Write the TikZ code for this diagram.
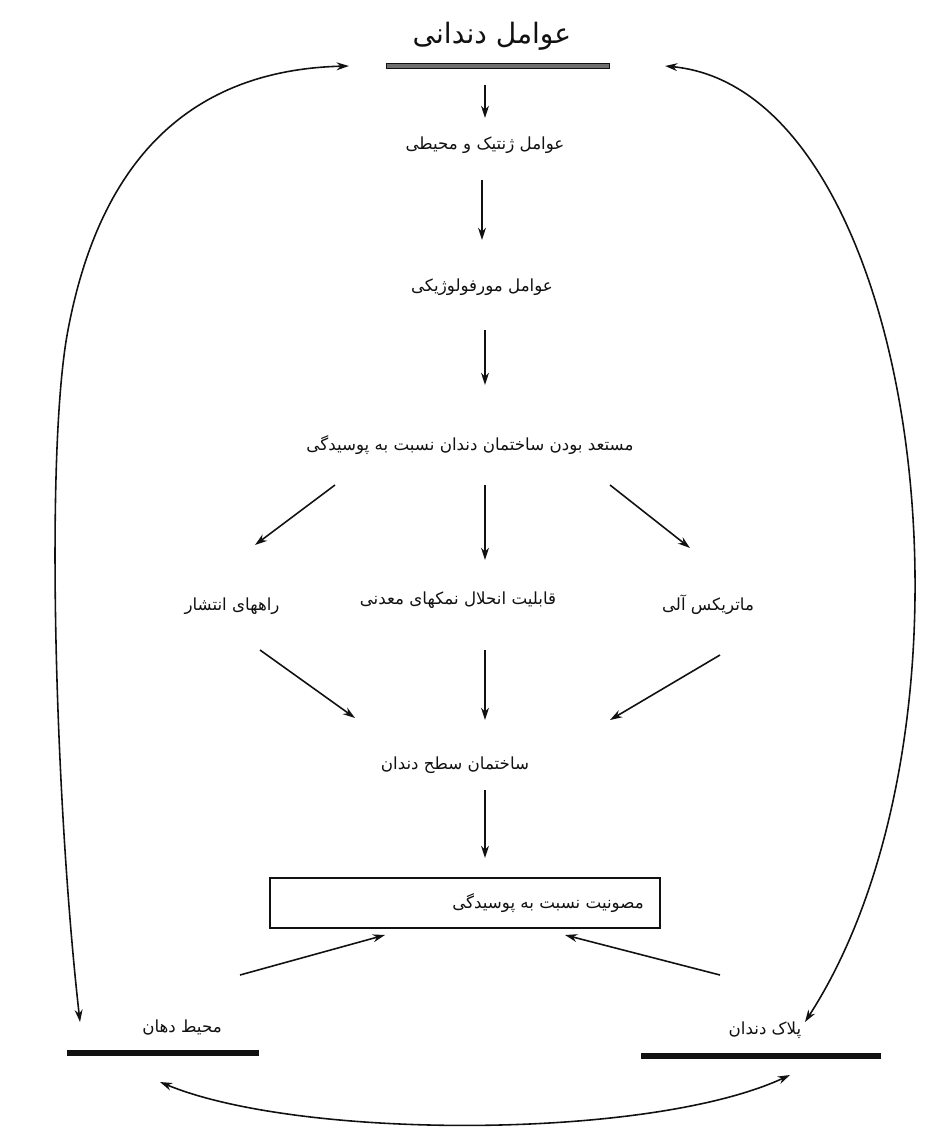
\documentclass[tikz,border=0pt]{standalone}
\usepackage{fontspec}
\usepackage{tikz}
\usetikzlibrary{arrows.meta, positioning}
\TeXXeTstate=1
\newfontfamily\farsi[Script=Arabic]{DejaVu Sans}
\newcommand{\rtl}[1]{\beginR#1\endR}
\definecolor{ink}{HTML}{111111}
\definecolor{rulegray}{HTML}{6E6E6E}
\tikzset{
  font=\farsi\fontsize{9.5}{12}\selectfont,
  >={Stealth[length=7pt, width=4.5pt]},
  %
  txt/.style={inner sep=2pt, text=ink},
  head/.style={txt, font=\farsi\fontsize{16}{19}\selectfont},
  resbox/.style={draw=ink, line width=0.8pt, minimum width=7.8cm,
                 minimum height=1cm, inner sep=0pt},
  bar/.style={draw=ink, line width=0.7pt, fill=rulegray, minimum height=0.09cm,
              inner sep=0pt},
  barsolid/.style={bar, fill=ink},
  %
  flow/.style={draw=ink, line width=0.9pt, ->},
  loop/.style={draw=ink, line width=0.9pt, <->},
}
\begin{document}
\begin{tikzpicture}[x=0.02cm, y=-0.02cm]
  \useasboundingbox (0,0) rectangle (926,1132);

  % the chain down the middle
  \node[head] (title) at (492,36) {\rtl{عوامل دندانی}};
  \node[bar, minimum width=4.46cm] (topbar) at (498,66) {};
  \node[txt] (gen) at (485,145) {\rtl{عوامل ژنتیک و محیطی}};
  \node[txt] (morph) at (482,287) {\rtl{عوامل مورفولوژیکی}};
  \node[txt] (susc) at (470,445) {\rtl{مستعد بودن ساختمان دندان نسبت به پوسیدگی}};

  \node[txt] (diff) at (232,606) {\rtl{راههای انتشار}};
  \node[txt] (solu) at (458,600) {\rtl{قابلیت انحلال نمکهای معدنی}};
  \node[txt] (orgm) at (708,605) {\rtl{ماتریکس آلی}};

  \node[txt] (surf) at (455,765) {\rtl{ساختمان سطح دندان}};
  \node[resbox] (res) at (465,903) {};
  \node[txt] (restxt) at (548,903) {\rtl{مصونیت نسبت به پوسیدگی}};

  % the two corners
  \node[txt] (oral) at (182,1027) {\rtl{محیط دهان}};
  \node[barsolid, minimum width=3.82cm] (oralbar) at (163,1053) {};
  \node[txt] (plaq) at (765,1030) {\rtl{پلاک دندان}};
  \node[barsolid, minimum width=4.76cm] (plaqbar) at (761,1056) {};

  % arrows
  \draw[flow] ([shift={(-13,19)}]topbar.center) -- ([shift={(0,-27)}]gen.center);
  \draw[flow] ([shift={(-3,35)}]gen.center) -- ([shift={(0,-47)}]morph.center);
  \draw[flow] ([shift={(3,43)}]morph.center) -- ([shift={(15,-60)}]susc.center);

  \draw[flow] ([shift={(-135,40)}]susc.center) -- ([shift={(23,-61)}]diff.center);
  \draw[flow] ([shift={(15,40)}]susc.center) -- ([shift={(27,-40)}]solu.center);
  \draw[flow] ([shift={(140,40)}]susc.center) -- ([shift={(-18,-57)}]orgm.center);

  \draw[flow] ([shift={(28,44)}]diff.center) -- ([shift={(-100,-47)}]surf.center);
  \draw[flow] ([shift={(27,50)}]solu.center) -- ([shift={(30,-45)}]surf.center);
  \draw[flow] ([shift={(12,50)}]orgm.center) -- ([shift={(155,-45)}]surf.center);

  \draw[flow] ([shift={(30,25)}]surf.center) -- ([shift={(20,-45)}]res.center);
  \draw[flow] ([shift={(58,-52)}]oral.center) -- ([shift={(-80,32)}]res.center);
  \draw[flow] ([shift={(-45,-55)}]plaq.center) -- ([shift={(100,32)}]res.center);

  % the big loops
  \draw[loop] ([shift={(-37,0)}]topbar.west)
    .. controls (190,70) and (100,160) .. (68,330)
    .. controls (45,450) and (55,800) .. ([shift={(-102,-5)}]oral.center);
  \draw[loop] ([shift={(55,0)}]topbar.east)
    .. controls (920,90) and (1000,720) .. ([shift={(40,-8)}]plaq.center);
  \draw[loop] ([shift={(-3,29)}]oralbar.center)
    .. controls (300,1140) and (650,1140) .. ([shift={(29,19)}]plaqbar.center);

\end{tikzpicture}
\end{document}
